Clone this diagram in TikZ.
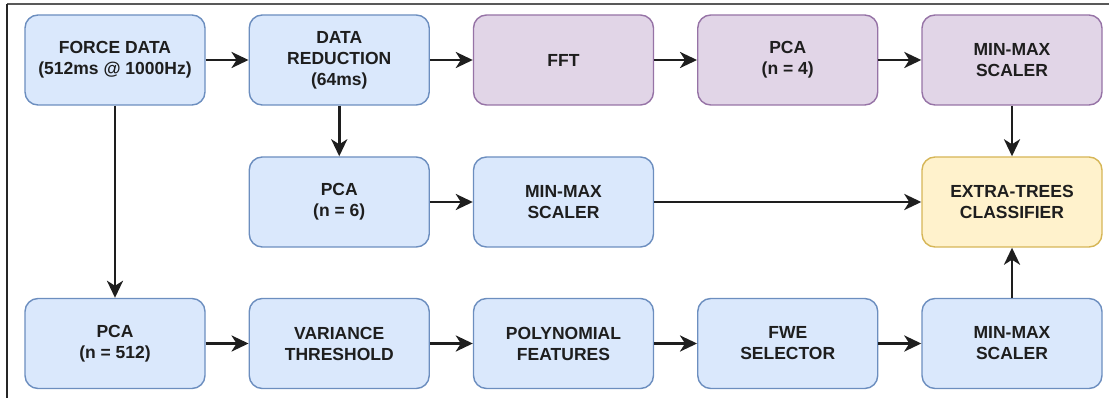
\documentclass[tikz,border=0pt]{standalone}
\usepackage{fontspec}
\setmainfont{Liberation Sans}
\usetikzlibrary{arrows.meta}
\definecolor{blueFill}{HTML}{DAE8FC}
\definecolor{blueLine}{HTML}{6C8EBF}
\definecolor{purpleFill}{HTML}{E1D5E7}
\definecolor{purpleLine}{HTML}{9673A6}
\definecolor{yellowFill}{HTML}{FFF2CC}
\definecolor{yellowLine}{HTML}{D6B656}
\definecolor{inkText}{HTML}{1E1E1E}
\tikzset{
  stage/.style={draw=blueLine, fill=blueFill, line width=1.4pt,
    rounded corners=13pt, minimum width=180pt, minimum height=90pt,
    inner sep=0pt, align=center, text=inkText,
    font=\fontsize{17.5}{21}\selectfont\bfseries},
  spectral/.style={stage, draw=purpleLine, fill=purpleFill},
  model/.style={stage, draw=yellowLine, fill=yellowFill},
  flow/.style={line width=2.9pt, draw=inkText,
    -{Stealth[length=17pt,width=16pt,inset=5pt]}}
}
\begin{document}
\begin{tikzpicture}[x=1pt,y=-1pt]
  \useasboundingbox (0,0) rectangle (1109,398);
  % frame edges
  \draw[line width=1.3pt, draw=black!65] (7,4) -- (1109,4);
  \draw[line width=1.3pt, draw=black!85] (7,4) -- (7,398);

  % top row
  \node[stage]    (force) at (115,60)     {FORCE DATA\\(512ms @ 1000Hz)};
  \node[stage]    (reduc) at (339.25,60)  {DATA\\REDUCTION\\(64ms)};
  \node[spectral] (fft)   at (563.5,60)   {FFT};
  \node[spectral] (pcaf)  at (787.75,60)  {PCA\\(n = 4)};
  \node[spectral] (mmf)   at (1012,60)    {MIN-MAX\\SCALER};

  % middle row
  \node[stage] (pcas)  at (339.25,202) {PCA\\(n = 6)};
  \node[stage] (mms)   at (563.5,202)  {MIN-MAX\\SCALER};
  \node[model] (extra) at (1012,202)   {EXTRA-TREES\\CLASSIFIER};

  % bottom row
  \node[stage] (pcab) at (115,343.5)    {PCA\\(n = 512)};
  \node[stage] (var)  at (339.25,343.5) {VARIANCE\\THRESHOLD};
  \node[stage] (poly) at (563.5,343.5)  {POLYNOMIAL\\FEATURES};
  \node[stage] (fwe)  at (787.75,343.5) {FWE\\SELECTOR};
  \node[stage] (mmb)  at (1012,343.5)   {MIN-MAX\\SCALER};

  % connectors
  \draw[flow] (force) -- (reduc);
  \draw[flow] (reduc) -- (fft);
  \draw[flow] (fft) -- (pcaf);
  \draw[flow] (pcaf) -- (mmf);
  \draw[flow] (mmf) -- (extra);
  \draw[flow] (reduc) -- (pcas);
  \draw[flow] (pcas) -- (mms);
  \draw[flow] (mms) -- (extra);
  \draw[flow] (force) -- (pcab);
  \draw[flow] (pcab) -- (var);
  \draw[flow] (var) -- (poly);
  \draw[flow] (poly) -- (fwe);
  \draw[flow] (fwe) -- (mmb);
  \draw[flow] (mmb) -- (extra);
\end{tikzpicture}
\end{document}
